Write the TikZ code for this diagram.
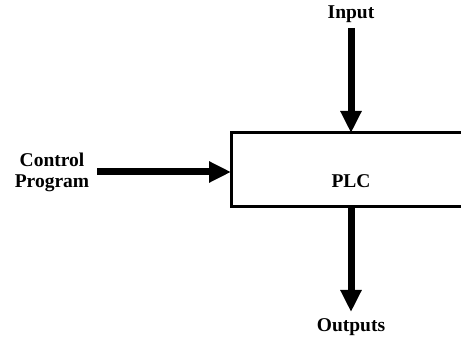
\documentclass[tikz,border=0pt]{standalone}
\usepackage{fontspec}
\setmainfont{Liberation Serif}
\usetikzlibrary{arrows.meta, positioning}

\begin{document}
\begin{tikzpicture}
                        [x=1pt, y=-1pt,
                         every node/.style={font=\fontsize{19.5}{21}\selectfont\bfseries, inner sep=0pt, align=center},
                         box line/.style={draw, line width=3pt},
                         flow/.style={draw, line width=7pt, -{Triangle[length=22pt, width=20pt]}}]

                        \useasboundingbox (0,0) rectangle (461,339);

                        % the block, open on the right
                        \coordinate (tr) at (461,133);
                        \coordinate (tl) at (231,133);
                        \coordinate (bl) at (231,207);
                        \coordinate (br) at (461,207);
                        \draw[box line] (tr) -- (tl) -- (bl) -- (br);
                        \node (plc) at (351,181) {PLC};

                        % labels
                        \node (input) at (351,14) {Input};
                        \node (prog) at (52,172) {Control\\Program};
                        \node (outputs) at (351,327) {Outputs};

                        % arrows
                        \coordinate (instart) at (351,28);
                        \coordinate (inend) at (351,133);
                        \coordinate (progstart) at (97,172);
                        \coordinate (progend) at (231,172);
                        \coordinate (outstart) at (351,207);
                        \coordinate (outend) at (351,312);
                        \draw[flow] (instart) -- (inend);
                        \draw[flow] (progstart) -- (progend);
                        \draw[flow] (outstart) -- (outend);
                    \end{tikzpicture}
\end{document}
